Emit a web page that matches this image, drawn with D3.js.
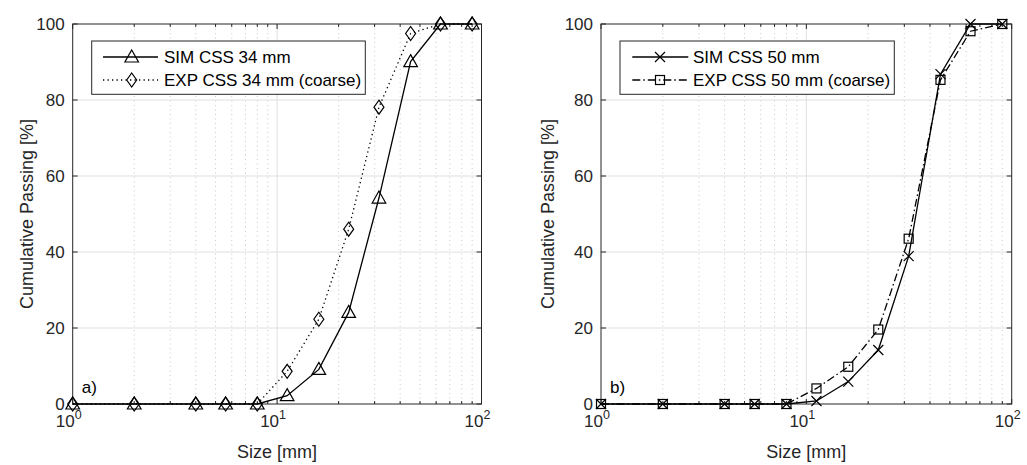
<!DOCTYPE html>
<html>
<head>
<meta charset="utf-8">
<script src="https://cdn.jsdelivr.net/npm/d3@7"></script>
<style>
  html, body { margin: 0; padding: 0; background: #fff; }
  svg { display: block; font-family: "Liberation Sans", Arial, Helvetica, sans-serif; }
</style>
</head>
<body>
<svg id="chart" width="1027" height="465"></svg>
<script>
// Sieve sizes [mm] and cumulative passing [%]
const sizes = [1, 2, 4, 5.6, 8, 11.2, 16, 22.4, 31.5, 45, 63, 90];
const simCss34 = [0, 0, 0, 0, 0, 2.2, 9.1, 24.1, 54.2, 90.1, 100, 100];
const expCss34 = [0, 0, 0, 0, 0, 8.6, 22.3, 46.0, 78.1, 97.5, 100, 100];
const simCss50 = [0, 0, 0, 0, 0, 0.8, 5.9, 14.2, 38.9, 86.8, 100, 100];
const expCss50 = [0, 0, 0, 0, 0, 4.1, 9.8, 19.6, 43.5, 85.3, 98.1, 100];

const xTicks = [1, 10, 100];
const yTicks = [0, 20, 40, 60, 80, 100];
const panelTags = ["a)", "b)"];
const seriesNames = [
  ["SIM CSS 34 mm", "EXP CSS 34 mm (coarse)"],
  ["SIM CSS 50 mm", "EXP CSS 50 mm (coarse)"]
];

const svg = d3.select("#chart");
const ink = "#262626";

// marker shapes
function drawMarker(g, type, x, y) {
  if (type === "triangle") {
    g.append("path").attr("d", `M${x},${y - 7}L${x + 6.8},${y + 5}L${x - 6.8},${y + 5}Z`)
      .attr("fill", "none").attr("stroke", "#000").attr("stroke-width", 1.2);
  } else if (type === "diamond") {
    g.append("path").attr("d", `M${x},${y - 7}L${x + 5},${y}L${x},${y + 7}L${x - 5},${y}Z`)
      .attr("fill", "none").attr("stroke", "#000").attr("stroke-width", 1.2);
  } else if (type === "square") {
    g.append("rect").attr("x", x - 4.5).attr("y", y - 4.5).attr("width", 9).attr("height", 9)
      .attr("fill", "none").attr("stroke", "#000").attr("stroke-width", 1.2);
  } else if (type === "cross") {
    g.append("path").attr("d", `M${x - 5},${y - 5}L${x + 5},${y + 5}M${x - 5},${y + 5}L${x + 5},${y - 5}`)
      .attr("fill", "none").attr("stroke", "#000").attr("stroke-width", 1.2);
  }
}

const panels = [
  {
    left: 72.7, right: 481.5, ylabelX: 33,
    series: [
      { values: simCss34, marker: "triangle", dash: null },
      { values: expCss34, marker: "diamond", dash: "1.3,3.2" }
    ],
    legend: { x0: 91.7, x1: 365.3, lineX0: 103, lineX1: 158, markX: 131.7, textX: 164 }
  },
  {
    left: 601, right: 1011.7, ylabelX: 554,
    series: [
      { values: simCss50, marker: "cross", dash: null },
      { values: expCss50, marker: "square", dash: "8,3,1.5,3" }
    ],
    legend: { x0: 620, x1: 894.3, lineX0: 632.3, lineX1: 688.3, markX: 660, textX: 693 }
  }
];

const plotTop = 24, plotBottom = 404;

panels.forEach((p, pi) => {
  const x = d3.scaleLog().domain([1, 100]).range([p.left, p.right]);
  const y = d3.scaleLinear().domain([0, 100]).range([plotBottom, plotTop]);
  const g = svg.append("g");

  // minor x grid (dotted)
  const minor = [];
  [1, 10].forEach(d => { for (let k = 2; k <= 9; k++) minor.push(d * k); });
  g.append("g").selectAll("line").data(minor).join("line")
    .attr("x1", d => x(d)).attr("x2", d => x(d)).attr("y1", plotTop).attr("y2", plotBottom)
    .attr("stroke", "#c8c8c8").attr("stroke-width", 1).attr("stroke-dasharray", "1,3.5");

  // major grid
  g.append("g").selectAll("line").data(xTicks.slice(1, -1)).join("line")
    .attr("x1", d => x(d)).attr("x2", d => x(d)).attr("y1", plotTop).attr("y2", plotBottom)
    .attr("stroke", "#dfdfdf").attr("stroke-width", 1);
  g.append("g").selectAll("line").data(yTicks.slice(1, -1)).join("line")
    .attr("x1", p.left).attr("x2", p.right).attr("y1", d => y(d)).attr("y2", d => y(d))
    .attr("stroke", "#dfdfdf").attr("stroke-width", 1);

  // axes box with inward ticks
  const box = g.append("g").attr("stroke", ink).attr("stroke-width", 1).attr("fill", "none");
  box.append("rect").attr("x", p.left).attr("y", plotTop)
    .attr("width", p.right - p.left).attr("height", plotBottom - plotTop);
  yTicks.forEach(t => {
    box.append("line").attr("x1", p.left).attr("x2", p.left + 5).attr("y1", y(t)).attr("y2", y(t));
    box.append("line").attr("x1", p.right).attr("x2", p.right - 5).attr("y1", y(t)).attr("y2", y(t));
  });
  xTicks.forEach(t => {
    box.append("line").attr("x1", x(t)).attr("x2", x(t)).attr("y1", plotBottom).attr("y2", plotBottom - 5);
    box.append("line").attr("x1", x(t)).attr("x2", x(t)).attr("y1", plotTop).attr("y2", plotTop + 5);
  });
  minor.forEach(t => {
    box.append("line").attr("x1", x(t)).attr("x2", x(t)).attr("y1", plotBottom).attr("y2", plotBottom - 3);
    box.append("line").attr("x1", x(t)).attr("x2", x(t)).attr("y1", plotTop).attr("y2", plotTop + 3);
  });

  // tick labels
  g.append("g").selectAll("text").data(yTicks).join("text")
    .attr("x", p.left - 8).attr("y", d => y(d) + 6)
    .attr("text-anchor", "end").attr("font-size", 17).attr("fill", ink)
    .text(d => d);
  const xl = g.append("g").selectAll("text").data(xTicks).join("text")
    .attr("x", d => x(d) - 4).attr("y", 427)
    .attr("text-anchor", "middle").attr("font-size", 17).attr("fill", ink);
  xl.append("tspan").text("10");
  xl.append("tspan").attr("dy", -8).attr("font-size", 12.5).text(d => Math.round(Math.log10(d)));

  // axis labels
  g.append("text").attr("x", (p.left + p.right) / 2).attr("y", 458)
    .attr("text-anchor", "middle").attr("font-size", 18).attr("fill", ink).text("Size [mm]");
  g.append("text").attr("transform", `translate(${p.ylabelX},${(plotTop + plotBottom) / 2}) rotate(-90)`)
    .attr("text-anchor", "middle").attr("font-size", 18).attr("fill", ink).text("Cumulative Passing [%]");

  // panel tag
  g.append("text").attr("x", p.left + 9).attr("y", 393).attr("font-size", 17).attr("fill", "#000")
    .text(panelTags[pi]);

  // series lines + markers
  const line = d3.line().x(d => x(d[0])).y(d => y(d[1]));
  p.series.forEach(s => {
    const pts = sizes.map((d, i) => [d, s.values[i]]);
    g.append("path").attr("d", line(pts)).attr("fill", "none").attr("stroke", "#000")
      .attr("stroke-width", 1.3).attr("stroke-dasharray", s.dash);
    const mg = g.append("g");
    pts.forEach(d => drawMarker(mg, s.marker, x(d[0]), y(d[1])));
  });

  // legend
  const L = p.legend;
  const lg = g.append("g");
  lg.append("rect").attr("x", L.x0).attr("y", 41).attr("width", L.x1 - L.x0).attr("height", 53.3)
    .attr("fill", "#fff").attr("stroke", ink).attr("stroke-width", 1);
  const rows = [57, 80];
  p.series.forEach((s, si) => {
    lg.append("line").attr("x1", L.lineX0).attr("x2", L.lineX1).attr("y1", rows[si]).attr("y2", rows[si])
      .attr("stroke", "#000").attr("stroke-width", 1.3).attr("stroke-dasharray", s.dash);
    drawMarker(lg, s.marker, L.markX, rows[si]);
    lg.append("text").attr("x", L.textX).attr("y", rows[si] + 6).attr("font-size", 17).attr("fill", "#000")
      .text(seriesNames[pi][si]);
  });
});
</script>
</body>
</html>
